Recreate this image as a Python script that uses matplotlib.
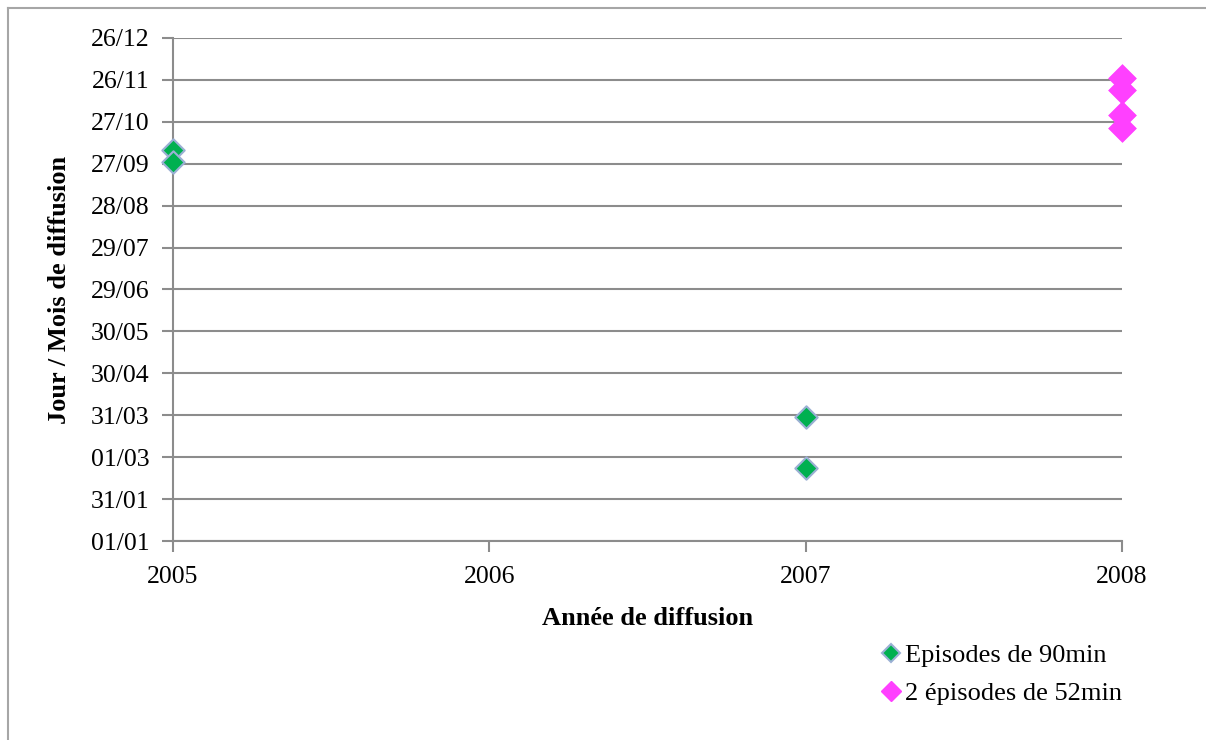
import matplotlib
matplotlib.use("Agg")
import matplotlib.pyplot as plt
from matplotlib.lines import Line2D

# Data
years_90 = [2005, 2005, 2007, 2007]
days_90 = [279.8, 271.4, 88.5, 52.0]
years_52 = [2008, 2008, 2008, 2008]
days_52 = [331.2, 322.8, 304.9, 295.4]
x_ticks = [2005, 2006, 2007, 2008]
y_ticks = [0, 30, 60, 90, 120, 150, 180, 210, 240, 270, 300, 330, 360]
y_labels = ["01/01", "31/01", "01/03", "31/03", "30/04", "30/05", "29/06",
            "29/07", "28/08", "27/09", "27/10", "26/11", "26/12"]
series_names = ["Episodes de 90min", "2 épisodes de 52min"]

plt.rcParams['font.family'] = ['Liberation Serif', 'DejaVu Serif']

fig = plt.figure(figsize=(12.06, 7.40), dpi=100)
ax = fig.add_axes([173/1206, 1-541/740, (1122-173)/1206, (541-38)/740])

grid_c = "#8C8C8C"
ax.set_xlim(2005, 2008)
ax.set_ylim(0, 360)
ax.set_yticks(y_ticks)
ax.set_yticklabels(y_labels)
ax.set_xticks(x_ticks)
ax.set_xticklabels([str(v) for v in x_ticks])
ax.yaxis.grid(True, color=grid_c, linewidth=1.5)
ax.set_axisbelow(True)
for s in ["top", "right"]:
    ax.spines[s].set_visible(False)
for s in ["left", "bottom"]:
    ax.spines[s].set_color(grid_c)
    ax.spines[s].set_linewidth(1.5)
ax.tick_params(axis="both", colors=grid_c, labelcolor="black", labelsize=18.5,
               length=8, width=1.5)
ax.tick_params(axis="x", pad=10)
ax.tick_params(axis="y", pad=9)

ax.scatter(years_90, days_90, marker="D", s=130, color="#00B050",
           edgecolors="#9BB0D4", linewidths=1.5, zorder=3, clip_on=False)
ax.scatter(years_52, days_52, marker="D", s=200, color="#FF40FF",
           edgecolors="#FF40FF", linewidths=0.5, zorder=3, clip_on=False)

ax.set_xlabel("Année de diffusion", fontsize=19, fontweight="bold", labelpad=14)
ax.set_ylabel("Jour / Mois de diffusion", fontsize=19, fontweight="bold", labelpad=14)

handles = [
    Line2D([], [], marker="D", linestyle="none", markersize=9,
           markerfacecolor="#00B050", markeredgecolor="#9BB0D4", markeredgewidth=1.5),
    Line2D([], [], marker="D", linestyle="none", markersize=10,
           markerfacecolor="#FF40FF", markeredgecolor="#FF40FF"),
]
fig.legend(handles, series_names, loc="upper left", bbox_to_anchor=(873/1206, 1-633/740),
           frameon=False, fontsize=19, handlelength=0.6, handletextpad=0.2,
           labelspacing=0.55, borderaxespad=0)

# outer chart frame (partially visible)
fig.add_artist(Line2D([8/1206, 8/1206], [0, 1-8/740], color="#A6A6A6", linewidth=1.5))
fig.add_artist(Line2D([8/1206, 1], [1-8/740, 1-8/740], color="#A6A6A6", linewidth=1.5))

fig.savefig("out.png", dpi=100)
